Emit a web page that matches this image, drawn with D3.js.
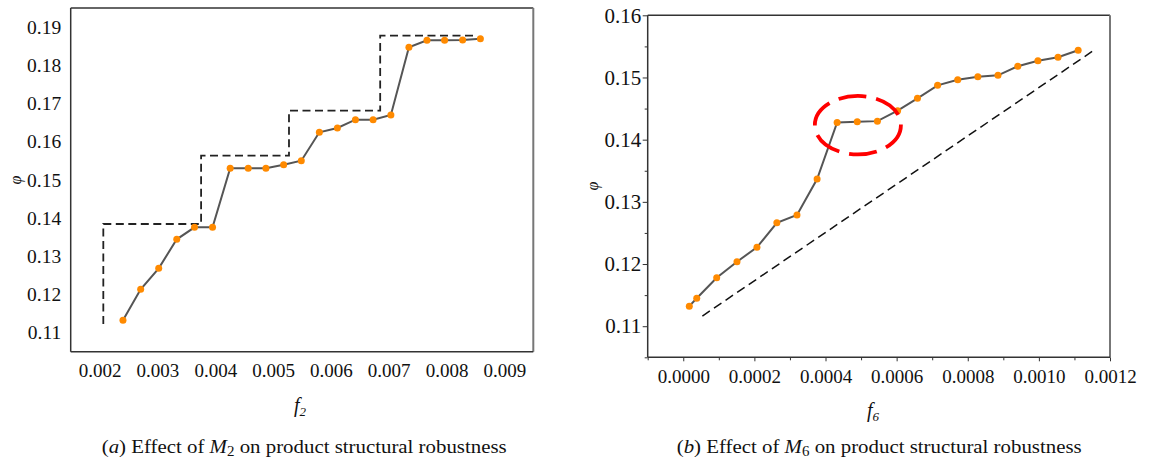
<!DOCTYPE html>
<html>
<head>
<meta charset="utf-8">
<script src="https://cdn.jsdelivr.net/npm/d3@7"></script>
<style>
  body { margin: 0; background: #fff; }
  text { font-family: "Liberation Serif", "Times New Roman", serif; fill: #111; }
</style>
</head>
<body>
<svg id="chart" width="1153" height="460"></svg>
<script>
// (a) M2 -> robustness
const leftX = [0.002404, 0.002710, 0.003022, 0.003334, 0.003641, 0.003953, 0.004258, 0.004570, 0.004876, 0.005183, 0.005488,
               0.005800, 0.006112, 0.006424, 0.006730, 0.007037, 0.007349, 0.007661, 0.007966, 0.008278, 0.008585];
const leftY = [0.11322, 0.12134, 0.12684, 0.13443, 0.13757, 0.13757, 0.15302, 0.15302, 0.15302, 0.15397, 0.15501,
               0.16245, 0.16358, 0.16575, 0.16575, 0.16698, 0.18471, 0.18654, 0.18654, 0.18660, 0.18696];
// dashed staircase
const stepX = [0.002064, 0.002064, 0.003755, 0.003755, 0.005275, 0.005275, 0.006852, 0.006852, 0.008533];
const stepY = [0.11225, 0.13844, 0.13844, 0.15632, 0.15632, 0.16811, 0.16811, 0.18775, 0.18775];
const leftXTicks = [0.002, 0.003, 0.004, 0.005, 0.006, 0.007, 0.008, 0.009];
const leftYTicks = [0.11, 0.12, 0.13, 0.14, 0.15, 0.16, 0.17, 0.18, 0.19];

// (b) M6 -> robustness
const rightX = [0.0000170, 0.0000379, 0.0000940, 0.0001511, 0.0002072, 0.0002632, 0.0003198, 0.0003764, 0.0004327, 0.0004893, 0.0005459,
                0.0006028, 0.0006586, 0.0007152, 0.0007718, 0.0008284, 0.0008850, 0.0009407, 0.0009973, 0.0010539, 0.0011105];
const rightY = [0.11322, 0.11450, 0.11780, 0.12037, 0.12269, 0.12663, 0.12788, 0.13367, 0.14276, 0.14287, 0.14298,
                0.14466, 0.14665, 0.14874, 0.14964, 0.15013, 0.15035, 0.15180, 0.15270, 0.15325, 0.15437];
const refX = [0.0000538, 0.0011530];
const refY = [0.11164, 0.15431];
const ringCenter = [0.000491, 0.14233];
const ringRadius = [0.000121, 0.0047];
const rightXTicks = [0, 0.0002, 0.0004, 0.0006, 0.0008, 0.0010, 0.0012];
const rightXMinor = [-0.0001, 0.0001, 0.0003, 0.0005, 0.0007, 0.0009, 0.0011];
const rightYTicks = [0.11, 0.12, 0.13, 0.14, 0.15, 0.16];
const rightYMinor = [0.105, 0.115, 0.125, 0.135, 0.145, 0.155];

const svg = d3.select("#chart");
const orange = "#ff8a00";

// ---------- left panel ----------
const xL = d3.scaleLinear().domain([0.0015, 0.0095]).range([70.7, 533.3]);
const yL = d3.scaleLinear().domain([0.105, 0.195]).range([351.7, 8]);

const gL = svg.append("g");

gL.append("g")
    .attr("transform", "translate(0,351.7)")
    .call(d3.axisBottom(xL).tickValues(leftXTicks).tickFormat(d3.format(".3f")).tickSize(0).tickPadding(12))
    .call(g => g.select(".domain").remove())
    .selectAll("text").style("font-size", "19px").attr("font-family", null);

gL.append("g")
    .attr("transform", "translate(70.7,0)")
    .call(d3.axisLeft(yL).tickValues(leftYTicks).tickFormat(d3.format(".2f")).tickSize(0).tickPadding(9.5))
    .call(g => g.select(".domain").remove())
    .selectAll("text").style("font-size", "19.5px").attr("font-family", null);

// frame
gL.append("line").attr("x1", 70.7).attr("x2", 533.3).attr("y1", 8).attr("y2", 8).attr("stroke", "#333").attr("stroke-width", 1.5);
gL.append("line").attr("x1", 533.3).attr("x2", 533.3).attr("y1", 8).attr("y2", 351.7).attr("stroke", "#777").attr("stroke-width", 2);
gL.append("line").attr("x1", 70.7).attr("x2", 70.7).attr("y1", 8).attr("y2", 351.7).attr("stroke", "#333").attr("stroke-width", 1.5);
gL.append("line").attr("x1", 70.7).attr("x2", 533.3).attr("y1", 351.7).attr("y2", 351.7).attr("stroke", "#333").attr("stroke-width", 1.5);

gL.append("path")
    .datum(stepX.map((x, i) => [x, stepY[i]]))
    .attr("d", d3.line().x(d => xL(d[0])).y(d => yL(d[1])))
    .attr("fill", "none").attr("stroke", "#222").attr("stroke-width", 1.8).attr("stroke-dasharray", "8,4.5");

const leftPts = leftX.map((x, i) => [x, leftY[i]]);
gL.append("path")
    .datum(leftPts)
    .attr("d", d3.line().x(d => xL(d[0])).y(d => yL(d[1])))
    .attr("fill", "none").attr("stroke", "#555").attr("stroke-width", 2);

gL.selectAll("circle")
    .data(leftPts)
    .enter()
    .append("circle")
    .attr("cx", d => xL(d[0]))
    .attr("cy", d => yL(d[1]))
    .attr("r", 3.5)
    .attr("fill", orange);

gL.append("text")
    .attr("transform", "translate(21,180) rotate(-90)")
    .attr("text-anchor", "middle")
    .style("font-size", "16px").style("font-style", "italic")
    .text("φ");

const f2 = gL.append("text").attr("x", 300).attr("y", 412).attr("text-anchor", "middle")
    .style("font-size", "20px").style("font-style", "italic");
f2.append("tspan").text("f");
f2.append("tspan").attr("dy", 4).style("font-size", "13px").text("2");

// caption is stretched a bit in the original, so fit it to its width
const capA = gL.append("text").attr("x", 101.7).attr("y", 452.5).style("font-size", "19.5px")
    .attr("textLength", 405).attr("lengthAdjust", "spacingAndGlyphs");
capA.append("tspan").text("(");
capA.append("tspan").style("font-style", "italic").text("a");
capA.append("tspan").text(") Effect of ");
capA.append("tspan").style("font-style", "italic").text("M");
capA.append("tspan").attr("dy", 3.5).style("font-size", "14px").text("2");
capA.append("tspan").attr("dy", -3.5).text(" on product structural robustness");

// ---------- right panel ----------
const xR = d3.scaleLinear().domain([-0.0001, 0.0012]).range([647.7, 1110]);
const yR = d3.scaleLinear().domain([0.105, 0.16]).range([357.3, 15.3]);

const gR = svg.append("g");

gR.append("g")
    .attr("transform", "translate(0,357.3)")
    .call(d3.axisBottom(xR).tickValues(rightXMinor).tickSize(3).tickFormat(""))
    .call(g => g.select(".domain").remove())
    .selectAll("line").attr("stroke", "#333");

gR.append("g")
    .attr("transform", "translate(0,357.3)")
    .call(d3.axisBottom(xR).tickValues(rightXTicks).tickFormat(d3.format(".4f")).tickSizeOuter(0).tickSize(4).tickPadding(8))
    .call(g => g.select(".domain").remove())
    .call(g => g.selectAll("line").attr("stroke", "#333"))
    .selectAll("text").style("font-size", "19px").attr("font-family", null);

gR.append("g")
    .attr("transform", "translate(647.7,0)")
    .call(d3.axisLeft(yR).tickValues(rightYMinor).tickSize(3).tickFormat(""))
    .call(g => g.select(".domain").remove())
    .selectAll("line").attr("stroke", "#333");

gR.append("g")
    .attr("transform", "translate(647.7,0)")
    .call(d3.axisLeft(yR).tickValues(rightYTicks).tickFormat(d3.format(".2f")).tickSizeOuter(0).tickSize(5).tickPadding(1.5))
    .call(g => g.select(".domain").remove())
    .call(g => g.selectAll("line").attr("stroke", "#333"))
    .selectAll("text").style("font-size", "21px").attr("font-family", null);

gR.append("line").attr("x1", 647.7).attr("x2", 1110).attr("y1", 15.3).attr("y2", 15.3).attr("stroke", "#333").attr("stroke-width", 1.5);
gR.append("line").attr("x1", 1110).attr("x2", 1110).attr("y1", 15.3).attr("y2", 357.3).attr("stroke", "#777").attr("stroke-width", 2);
gR.append("line").attr("x1", 647.7).attr("x2", 647.7).attr("y1", 15.3).attr("y2", 357.3).attr("stroke", "#333").attr("stroke-width", 1.5);
gR.append("line").attr("x1", 647.7).attr("x2", 1110).attr("y1", 357.3).attr("y2", 357.3).attr("stroke", "#333").attr("stroke-width", 1.5);

gR.append("line")
    .attr("x1", xR(refX[0])).attr("y1", yR(refY[0]))
    .attr("x2", xR(refX[1])).attr("y2", yR(refY[1]))
    .attr("stroke", "#111").attr("stroke-width", 1.5).attr("stroke-dasharray", "9,5");

const rightPts = rightX.map((x, i) => [x, rightY[i]]);
gR.append("path")
    .datum(rightPts)
    .attr("d", d3.line().x(d => xR(d[0])).y(d => yR(d[1])))
    .attr("fill", "none").attr("stroke", "#555").attr("stroke-width", 2);

gR.selectAll("circle")
    .data(rightPts)
    .enter()
    .append("circle")
    .attr("cx", d => xR(d[0]))
    .attr("cy", d => yR(d[1]))
    .attr("r", 3.5)
    .attr("fill", orange);

// red dashed ring around the plateau
gR.append("ellipse")
    .attr("cx", xR(ringCenter[0])).attr("cy", yR(ringCenter[1]))
    .attr("rx", xR(ringCenter[0] + ringRadius[0]) - xR(ringCenter[0]))
    .attr("ry", yR(ringCenter[1]) - yR(ringCenter[1] + ringRadius[1]))
    .attr("fill", "none").attr("stroke", "#f00").attr("stroke-width", 3.8)
    .attr("stroke-dasharray", "28,10");

gR.append("text")
    .attr("transform", "translate(598,186) rotate(-90)")
    .attr("text-anchor", "middle")
    .style("font-size", "16px").style("font-style", "italic")
    .text("φ");

const f6 = gR.append("text").attr("x", 873).attr("y", 417).attr("text-anchor", "middle")
    .style("font-size", "20px").style("font-style", "italic");
f6.append("tspan").text("f");
f6.append("tspan").attr("dy", 4).style("font-size", "13px").text("6");

const capB = gR.append("text").attr("x", 676.7).attr("y", 452.5).style("font-size", "19.5px")
    .attr("textLength", 405).attr("lengthAdjust", "spacingAndGlyphs");
capB.append("tspan").text("(");
capB.append("tspan").style("font-style", "italic").text("b");
capB.append("tspan").text(") Effect of ");
capB.append("tspan").style("font-style", "italic").text("M");
capB.append("tspan").attr("dy", 3.5).style("font-size", "14px").text("6");
capB.append("tspan").attr("dy", -3.5).text(" on product structural robustness");
</script>
</body>
</html>
